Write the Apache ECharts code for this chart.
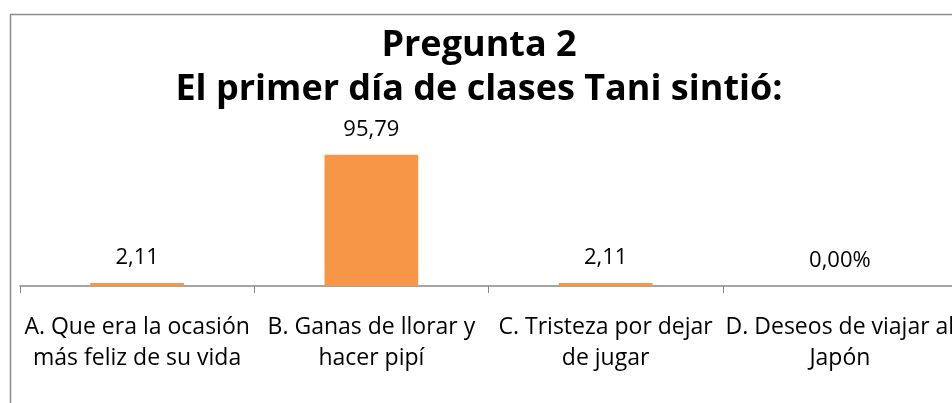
<!DOCTYPE html>
<html>
<head>
<meta charset="utf-8">
<style>
  html, body { margin: 0; padding: 0; background: #fff; }
  #chart { width: 952px; height: 403px; }
</style>
<script src="https://cdn.jsdelivr.net/npm/echarts@6/dist/echarts.min.js"></script>
</head>
<body>
<div id="chart"></div>
<script>
// chart data
const categories = [
    'A. Que era la ocasión\nmás feliz de su vida',
    'B. Ganas de llorar y\nhacer pipí',
    'C. Tristeza por dejar\nde jugar',
    'D. Deseos de viajar al\nJapón'
];
const values = [2.11, 95.79, 2.11, 0];
const labelSuffix = ['', '', '', '%'];
const titleText = 'Pregunta 2\nEl primer día de clases Tani sintió:';

const font = '"Open Sans", Lato, sans-serif';

function fmt(params) {
    return params.value.toFixed(2).replace('.', ',') + labelSuffix[params.dataIndex];
}

let chart = echarts.init(document.getElementById('chart'));

chart.setOption({
    animation: false,
    backgroundColor: '#fff',
    title: {
        text: titleText,
        left: 479,
        top: 24,
        padding: 0,
        textAlign: 'center',
        textStyle: {
            fontFamily: font,
            fontWeight: 'bold',
            fontSize: 36,
            lineHeight: 44,
            color: '#000'
        }
    },
    graphic: [{
        type: 'rect',
        left: 8,
        top: 12,
        shape: { width: 1000, height: 500 },
        style: { fill: 'none', stroke: '#8c8c8c', lineWidth: 1.5 },
        silent: true
    }],
    grid: {
        left: 20,
        top: 149,
        width: 937,
        height: 137,
        containLabel: false,
        outerBoundsMode: 'none'
    },
    xAxis: {
        type: 'category',
        data: categories,
        axisLine: { lineStyle: { color: '#868686', width: 1.5 } },
        axisTick: { show: true, length: 7, lineStyle: { color: '#868686' } },
        axisLabel: {
            interval: 0,
            margin: 26,
            color: '#000',
            fontFamily: font,
            fontSize: 23,
            lineHeight: 31
        }
    },
    yAxis: {
        type: 'value',
        show: false,
        min: 0,
        max: 100,
        splitLine: { show: false }
    },
    series: [{
        type: 'bar',
        data: values,
        barWidth: '40%',
        itemStyle: { color: '#F79646' },
        label: {
            show: true,
            position: 'top',
            distance: 14,
            color: '#000',
            fontFamily: font,
            fontSize: 22,
            formatter: fmt
        }
    }]
});
</script>
</body>
</html>
